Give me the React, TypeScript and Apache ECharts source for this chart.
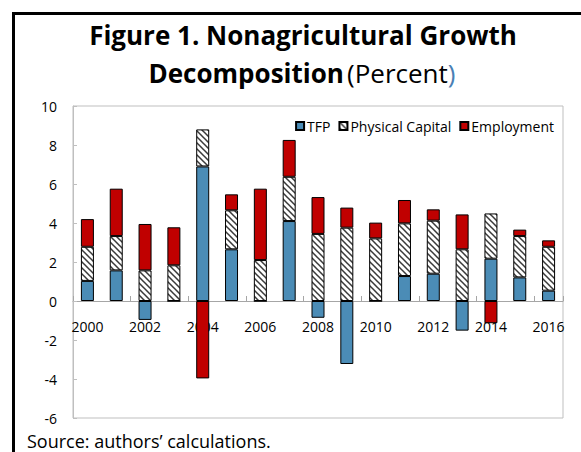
import React, { useEffect, useRef } from "react";
import * as echarts from "echarts";

const years = ["2000","2001","2002","2003","2004","2005","2006","2007","2008","2009","2010","2011","2012","2013","2014","2015","2016"];
const tfp = [1.03, 1.57, -0.97, 0, 6.9, 2.65, 0, 4.1, -0.86, -3.23, 0, 1.28, 1.4, -1.52, 2.17, 1.21, 0.53];
const capital = [1.75, 1.76, 1.57, 1.83, 1.9, 2.0, 2.1, 2.27, 3.44, 3.76, 3.21, 2.7, 2.72, 2.65, 2.32, 2.12, 2.25];
const employment = [1.42, 2.43, 2.38, 1.95, -3.97, 0.82, 3.66, 1.89, 1.89, 1.03, 0.81, 1.2, 0.58, 1.79, -1.14, 0.33, 0.33];
const seriesNames = ["TFP", "Physical Capital", "Employment"];
const yMin = -6;
const yMax = 10;

const FONT = "'Open Sans', 'Noto Sans', sans-serif";

const hatchSvg =
  "<svg xmlns='http://www.w3.org/2000/svg' width='6' height='6'>" +
  "<rect width='6' height='6' fill='#ffffff'/>" +
  "<path d='M-1,-1 L7,7 M-1,5 L1,7 M5,-1 L7,1' stroke='#3a3a3a' stroke-width='1.5'/></svg>";
const hatchUrl = "data:image/svg+xml;charset=utf-8," + encodeURIComponent(hatchSvg);

const GRID_TOP = 106;
const GRID_H = 312;

export default function App() {
  const ref = useRef<HTMLDivElement>(null);
  useEffect(() => {
    document.body.style.margin = "0";
    const chart = echarts.init(ref.current!, null, { renderer: "svg" });
    const barCommon = {
      type: "bar" as const,
      stack: "total",
      barWidth: 13,
    };
    // distance from the grid bottom to the zero line
    const zeroOffset = -GRID_H * ((0 - yMin) / (yMax - yMin));
    chart.setOption({
      animation: false,
      textStyle: { fontFamily: FONT },
      grid: {
        left: 73,
        top: GRID_TOP,
        width: 490,
        height: GRID_H,
        show: true,
        borderColor: "#bfbfbf",
        borderWidth: 1,
        containLabel: false,
      },
      legend: {
        data: seriesNames,
        right: 22,
        top: 114,
        itemWidth: 8,
        itemHeight: 8,
        itemGap: 8,
        icon: "rect",
        textStyle: { fontFamily: FONT, fontSize: 14, color: "#000", padding: [0, 0, 0, -2] },
      },
      xAxis: {
        type: "category",
        data: years,
        position: "bottom",
        offset: zeroOffset,
        axisLine: { onZero: false, lineStyle: { color: "#a6a6a6", width: 1 } },
        axisTick: { show: true, inside: true, length: 5, interval: 1, lineStyle: { color: "#a6a6a6" } },
        axisLabel: { interval: 1, margin: 18, fontSize: 14, color: "#000", fontFamily: FONT },
        splitLine: { show: false },
      },
      yAxis: {
        type: "value",
        min: yMin,
        max: yMax,
        interval: 2,
        axisLine: { show: true, lineStyle: { color: "#bfbfbf" } },
        axisTick: { show: true, inside: true, length: 4, lineStyle: { color: "#bfbfbf" } },
        axisLabel: { margin: 16, fontSize: 14, color: "#000", fontFamily: FONT },
        splitLine: { show: false },
      },
      series: [
        {
          ...barCommon,
          name: seriesNames[0],
          data: tfp,
          itemStyle: { color: "#4b8cb6", borderColor: "#000", borderWidth: 1 },
        },
        {
          ...barCommon,
          name: seriesNames[1],
          data: capital,
          itemStyle: {
            color: { image: hatchUrl, repeat: "repeat", imageWidth: 6, imageHeight: 6 } as any,
            borderColor: "#000",
            borderWidth: 1,
          },
        },
        {
          ...barCommon,
          name: seriesNames[2],
          data: employment,
          itemStyle: { color: "#c00000", borderColor: "#000", borderWidth: 1 },
        },
      ],
      graphic: [
        { type: "line", shape: { x1: 12, y1: 13.5, x2: 581, y2: 13.5 }, style: { stroke: "#000", lineWidth: 3 } },
        { type: "line", shape: { x1: 13.5, y1: 12, x2: 13.5, y2: 452 }, style: { stroke: "#000", lineWidth: 3 } },
        {
          type: "text",
          x: 303,
          y: 35,
          style: {
            text: "Figure 1. Nonagricultural Growth",
            fontFamily: FONT,
            fontWeight: "bold",
            fontSize: 26,
            fill: "#000",
            textAlign: "center",
            textVerticalAlign: "middle",
          },
        },
        {
          type: "text",
          x: 302,
          y: 73,
          style: {
            text: "{b|Decomposition} {r|(Percent}{p|)}",
            fontFamily: FONT,
            textAlign: "center",
            textVerticalAlign: "middle",
            rich: {
              b: { fontFamily: FONT, fontWeight: "bold", fontSize: 26, fill: "#000" },
              r: { fontFamily: FONT, fontWeight: "normal", fontSize: 26, fill: "#000" },
              p: { fontFamily: FONT, fontWeight: "normal", fontSize: 26, fill: "#4a7fb5" },
            },
          },
        },
        {
          type: "text",
          x: 27,
          y: 441,
          style: {
            text: "Source: authors’ calculations.",
            fontFamily: FONT,
            fontSize: 18,
            fill: "#000",
            textAlign: "left",
            textVerticalAlign: "middle",
          },
        },
      ],
    });
    return () => chart.dispose();
  }, []);
  return <div ref={ref} style={{ width: 581, height: 452 }} />;
}
